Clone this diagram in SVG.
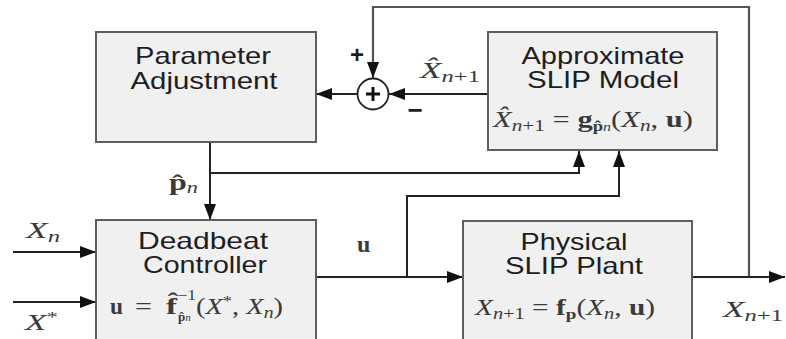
<svg xmlns="http://www.w3.org/2000/svg" width="786" height="339" viewBox="0 0 786 339">
<style>
.box{fill:#f0f0f0;stroke:#5e5e5e;stroke-width:2}
.t{font-family:"Liberation Sans",Arial,sans-serif;font-size:24px;fill:#1e1e1e;text-anchor:middle}
.m{font-family:"Liberation Serif","Times New Roman",serif;fill:#3a3a3a}
.i{font-style:italic}
.b{font-weight:bold}
.c{fill:none;stroke:#222;stroke-width:2}
.fb{fill:none;stroke:#555;stroke-width:2.2}
.sg{font-family:"Liberation Sans",Arial,sans-serif;font-weight:bold;fill:#1e1e1e;text-anchor:middle}
</style>
<defs>
<marker id="ah" markerUnits="userSpaceOnUse" markerWidth="16" markerHeight="12" refX="16" refY="6" orient="auto">
<path d="M0,0 L16,6 L0,12 z" fill="#111"/>
</marker>
</defs>
<rect width="786" height="339" fill="#fff"/>

<g id="connectors">
<path class="fb" d="M749 277 V7 H373 V78" marker-end="url(#ah)"/>
<path class="c" d="M488 94 H389" marker-end="url(#ah)"/>
<path class="c" d="M357 94 H316" marker-end="url(#ah)"/>
<path class="c" d="M210 142 V220" marker-end="url(#ah)"/>
<path class="c" d="M210 173 H579 V151" marker-end="url(#ah)"/>
<path class="c" d="M316 277 H463" marker-end="url(#ah)"/>
<path class="c" d="M407 277 V196 H619 V151" marker-end="url(#ah)"/>
<path class="c" d="M692 277 H785" marker-end="url(#ah)"/>
<path class="c" d="M13 252 H96" marker-end="url(#ah)"/>
<path class="c" d="M13 302 H96" marker-end="url(#ah)"/>
</g>

<g id="sum">
<circle cx="373" cy="94" r="15.5" fill="#fff" stroke="#222" stroke-width="1.8"/>
<path d="M366 94 H380 M373 87 V101" stroke="#111" stroke-width="3"/>
<text class="sg" x="357" y="63" font-size="24">+</text>
<text class="sg" x="415" y="119" font-size="26">−</text>
</g>

<g id="param">
<rect class="box" x="96" y="32" width="220" height="110"/>
<text class="t" x="203" y="64" textLength="136" lengthAdjust="spacingAndGlyphs">Parameter</text>
<text class="t" x="204" y="89" textLength="147" lengthAdjust="spacingAndGlyphs">Adjustment</text>
</g>

<g id="approx">
<rect class="box" x="488" y="32" width="229" height="118"/>
<text class="t" x="603" y="64" textLength="163" lengthAdjust="spacingAndGlyphs">Approximate</text>
<text class="t" x="603" y="88" textLength="152" lengthAdjust="spacingAndGlyphs">SLIP Model</text>
<text class="m" font-size="23" x="493" y="127" textLength="200" lengthAdjust="spacingAndGlyphs"><tspan class="i">X̂</tspan><tspan class="i" font-size="16" dy="4">n</tspan><tspan font-size="16">+1</tspan><tspan dy="-4"> = </tspan><tspan class="b">g</tspan><tspan class="b" font-size="14" dy="4">p̂</tspan><tspan class="i" font-size="12">n</tspan><tspan dy="-4">(</tspan><tspan class="i">X</tspan><tspan class="i" font-size="16" dy="4">n</tspan><tspan dy="-4">, </tspan><tspan class="b">u</tspan><tspan>)</tspan></text>
</g>

<g id="controller">
<rect class="box" x="96" y="220" width="220" height="130"/>
<text class="t" x="203" y="249" textLength="130" lengthAdjust="spacingAndGlyphs">Deadbeat</text>
<text class="t" x="205" y="273" textLength="124" lengthAdjust="spacingAndGlyphs">Controller</text>
<text class="m b" font-size="23" x="110" y="314" textLength="13" lengthAdjust="spacingAndGlyphs">u</text>
<text class="m" font-size="23" x="135" y="314" textLength="17" lengthAdjust="spacingAndGlyphs">=</text>
<text class="m b" font-size="23" x="166" y="314" textLength="11" lengthAdjust="spacingAndGlyphs">f̂</text>
<text class="m" font-size="14" x="178" y="300" textLength="18" lengthAdjust="spacingAndGlyphs">−1</text>
<text class="m" font-size="13" x="178" y="321"><tspan class="b">p̂</tspan><tspan class="i" font-size="11">n</tspan></text>
<text class="m" font-size="23" x="196" y="314" textLength="87" lengthAdjust="spacingAndGlyphs">(<tspan class="i">X</tspan><tspan font-size="15" dy="-8">*</tspan><tspan dy="8">, </tspan><tspan class="i">X</tspan><tspan class="i" font-size="16" dy="4">n</tspan><tspan dy="-4">)</tspan></text>
</g>

<g id="plant">
<rect class="box" x="463" y="221" width="229" height="130"/>
<text class="t" x="574" y="250" textLength="107" lengthAdjust="spacingAndGlyphs">Physical</text>
<text class="t" x="574" y="274" textLength="138" lengthAdjust="spacingAndGlyphs">SLIP Plant</text>
<text class="m" font-size="23" x="475" y="315" textLength="180" lengthAdjust="spacingAndGlyphs"><tspan class="i">X</tspan><tspan class="i" font-size="16" dy="4">n</tspan><tspan font-size="16">+1</tspan><tspan dy="-4"> = </tspan><tspan class="b">f</tspan><tspan class="b" font-size="15" dy="4">p</tspan><tspan dy="-4">(</tspan><tspan class="i">X</tspan><tspan class="i" font-size="16" dy="4">n</tspan><tspan dy="-4">, </tspan><tspan class="b">u</tspan><tspan>)</tspan></text>
</g>

<g id="labels">
<text class="m" font-size="23" x="420" y="78" textLength="60" lengthAdjust="spacingAndGlyphs"><tspan class="i">X̂</tspan><tspan class="i" font-size="16" dy="4">n</tspan><tspan font-size="16">+1</tspan></text>
<text class="m" font-size="23" x="169" y="190" textLength="29" lengthAdjust="spacingAndGlyphs"><tspan class="b">p̂</tspan><tspan class="i" font-size="16" dy="3">n</tspan></text>
<text class="m b" font-size="24" x="357" y="252">u</text>
<text class="m" font-size="23" x="26" y="238" textLength="34" lengthAdjust="spacingAndGlyphs"><tspan class="i">X</tspan><tspan class="i" font-size="16" dy="4">n</tspan></text>
<text class="m" font-size="23" x="25" y="330" textLength="33" lengthAdjust="spacingAndGlyphs"><tspan class="i">X</tspan><tspan font-size="15" dy="-8">*</tspan></text>
<text class="m" font-size="23" x="723" y="317" textLength="60" lengthAdjust="spacingAndGlyphs"><tspan class="i">X</tspan><tspan class="i" font-size="16" dy="4">n</tspan><tspan font-size="16">+1</tspan></text>
</g>
</svg>
